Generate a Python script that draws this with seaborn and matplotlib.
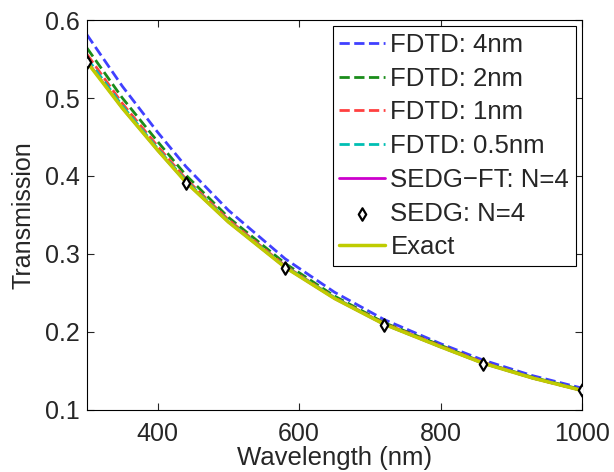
import numpy as np
import pandas as pd
import seaborn as sns
import matplotlib
matplotlib.use("Agg")
import matplotlib.pyplot as plt

wavelength = [300, 350, 400, 440, 500, 580, 650, 720, 800, 860, 930, 1000]

fdtd_4nm = [0.581, 0.515, 0.456, 0.412, 0.356, 0.294, 0.251, 0.216, 0.185, 0.164, 0.144, 0.128]
fdtd_2nm = [0.564, 0.500, 0.444, 0.401, 0.347, 0.288, 0.246, 0.212, 0.183, 0.161, 0.142, 0.126]
fdtd_1nm = [0.556, 0.493, 0.438, 0.396, 0.344, 0.285, 0.244, 0.211, 0.182, 0.161, 0.141, 0.125]
fdtd_05nm = [0.551, 0.490, 0.435, 0.394, 0.342, 0.284, 0.244, 0.210, 0.181, 0.160, 0.141, 0.125]
sedg_ft = [0.547, 0.487, 0.433, 0.392, 0.341, 0.283, 0.243, 0.210, 0.181, 0.160, 0.141, 0.125]
exact = [0.546, 0.487, 0.433, 0.392, 0.341, 0.283, 0.243, 0.210, 0.181, 0.160, 0.141, 0.125]

sedg_wl = [300, 440, 580, 720, 860, 1000]
sedg = [0.546, 0.391, 0.282, 0.209, 0.159, 0.126]

sns.set_style("ticks")
plt.rcParams['font.family'] = ['Liberation Sans', 'DejaVu Sans']
plt.rcParams['font.size'] = 18
plt.rcParams['xtick.direction'] = 'in'
plt.rcParams['ytick.direction'] = 'in'

fig = plt.figure(figsize=(6.14, 4.72), dpi=100)
ax = fig.add_axes([0.1417, 0.1314, 0.8062, 0.8262])

lw = 2
sns.lineplot(x=wavelength, y=fdtd_4nm, ax=ax, color=(0.25, 0.25, 1.0), linestyle='--', lw=lw, label='FDTD: 4nm')
sns.lineplot(x=wavelength, y=fdtd_2nm, ax=ax, color=(0.1, 0.55, 0.1), linestyle='--', lw=lw, label='FDTD: 2nm')
sns.lineplot(x=wavelength, y=fdtd_1nm, ax=ax, color=(1.0, 0.25, 0.25), linestyle='--', lw=lw, label='FDTD: 1nm')
sns.lineplot(x=wavelength, y=fdtd_05nm, ax=ax, color=(0.0, 0.75, 0.7), linestyle='--', lw=lw, label='FDTD: 0.5nm')
sns.lineplot(x=wavelength, y=sedg_ft, ax=ax, color=(0.8, 0.0, 0.8), lw=lw, label='SEDG\u2212FT: N=4')
sns.scatterplot(x=sedg_wl, y=sedg, ax=ax, marker='d', s=40, facecolors='white',
                edgecolor='black', linewidths=1.6, label='SEDG: N=4', zorder=5)
sns.lineplot(x=wavelength, y=exact, ax=ax, color=(0.75, 0.8, 0.0), lw=2.5, label='Exact')

ax.set_xlim(300, 1000)
ax.set_ylim(0.1, 0.6)
ax.set_xticks([400, 600, 800, 1000])
ax.set_yticks([0.1, 0.2, 0.3, 0.4, 0.5, 0.6])
ax.tick_params(top=True, right=True, length=5, width=0.8, labelsize=18)
ax.tick_params(axis='x', pad=9)
ax.tick_params(axis='y', pad=5)
for s in ax.spines.values():
    s.set_visible(True)
    s.set_color('black')
    s.set_linewidth(0.8)

ax.set_xlabel('Wavelength (nm)', fontsize=18.5, labelpad=0)
ax.set_ylabel('Transmission', fontsize=18, labelpad=7)

leg = ax.legend(loc='upper right', fontsize=18.5, frameon=True, fancybox=False,
                edgecolor='black', framealpha=1, labelspacing=0.38,
                handlelength=1.8, handletextpad=0.2, borderpad=0.25,
                borderaxespad=0.25)
leg.get_frame().set_linewidth(0.8)

fig.savefig('out.png', dpi=100)
